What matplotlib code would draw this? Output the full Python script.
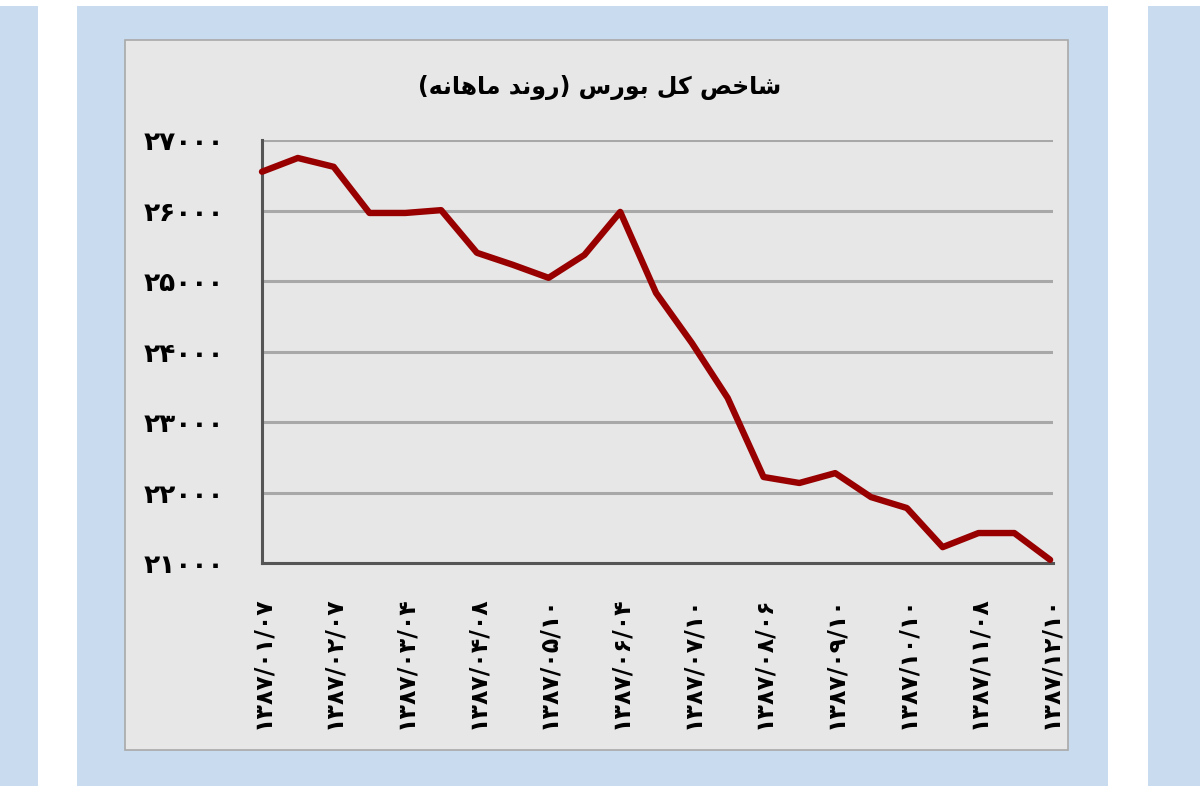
import matplotlib
matplotlib.use('Agg')
import matplotlib.pyplot as plt
from matplotlib.patches import Rectangle

# monthly index values
index_values = [26550, 26745, 26620, 25965, 25965, 26005, 25400, 25230,
                25045, 25370, 25980, 24830, 24120, 23340, 22220, 22135,
                22275, 21935, 21780, 21225, 21425, 21425, 21045]

y_ticks = [21000, 22000, 23000, 24000, 25000, 26000, 27000]
y_tick_labels = ['۲۱۰۰۰', '۲۲۰۰۰', '۲۳۰۰۰', '۲۴۰۰۰', '۲۵۰۰۰', '۲۶۰۰۰', '۲۷۰۰۰']

# every second point carries a date label
x_tick_labels = ['۱۳۸۷/۰۱/۰۷', '۱۳۸۷/۰۲/۰۷', '۱۳۸۷/۰۳/۰۴', '۱۳۸۷/۰۴/۰۸',
                 '۱۳۸۷/۰۵/۱۰', '۱۳۸۷/۰۶/۰۴', '۱۳۸۷/۰۷/۱۰', '۱۳۸۷/۰۸/۰۶',
                 '۱۳۸۷/۰۹/۱۰', '۱۳۸۷/۱۰/۱۰', '۱۳۸۷/۱۱/۰۸', '۱۳۸۷/۱۲/۱۰']

# title "شاخص کل بورس (روند ماهانه)" written in visual order with
# presentation forms, since matplotlib does no arabic shaping
title_visual = ('(\uFEEA\uFEE7\uFE8E\uFEEB\uFE8E\uFEE3 \uFEAA\uFEE7\uFEED\uFEAD) '
                '\uFEB1\uFEAD\uFEEE\uFE91 \uFEDE\uFB90 \uFEBA\uFEA7\uFE8E\uFEB7')

panel_blue = '#c9dcef'
plot_grey = '#e7e7e7'
line_red = '#980000'

plt.rcParams['font.family'] = ['DejaVu Sans']

fig = plt.figure(figsize=(12, 8), dpi=100)
fig.patch.set_facecolor('white')

W, H = 1200.0, 800.0


def px_rect(x0, y0, x1, y1, **kw):
    # rectangle given in pixel coords (origin top-left)
    r = Rectangle((x0 / W, 1 - y1 / H), (x1 - x0) / W, (y1 - y0) / H,
                  transform=fig.transFigure, **kw)
    fig.add_artist(r)
    return r


# blue frames (neighbouring panels cut at the edges)
px_rect(0, 6, 38, 786, facecolor=panel_blue, edgecolor='none', zorder=0)
px_rect(77, 6, 1108, 786, facecolor=panel_blue, edgecolor='none', zorder=0)
px_rect(1148, 6, 1200, 786, facecolor=panel_blue, edgecolor='none', zorder=0)
# grey chart area
px_rect(125, 40, 1068, 750, facecolor=plot_grey, edgecolor='#a9a9a9',
        linewidth=1.2, zorder=0.5)

ax = fig.add_axes([262 / W, 1 - 563 / H, (1053 - 262) / W, (563 - 140) / H])
ax.set_zorder(2)
ax.set_facecolor('none')

x = list(range(len(index_values)))
ax.plot(x, index_values, color=line_red, linewidth=4.6,
        solid_joinstyle='round', solid_capstyle='round', zorder=3,
        clip_on=False)

ax.set_xlim(0, len(index_values) - 1 + 0.08)
ax.set_ylim(y_ticks[0], y_ticks[-1])

ax.set_yticks(y_ticks)
ax.set_yticklabels(y_tick_labels, fontsize=19, fontweight='bold')
ax.set_xticks(x[::2])
ax.set_xticklabels(x_tick_labels, rotation=90, fontsize=17, fontweight='bold')

ax.yaxis.grid(True, color='#a8a8a8', linewidth=2.2)
ax.set_axisbelow(True)
ax.tick_params(axis='y', length=0, pad=27)
ax.tick_params(axis='x', length=0, pad=24)

for side in ['top', 'right']:
    ax.spines[side].set_visible(False)
for side in ['left', 'bottom']:
    ax.spines[side].set_color('#555555')
    ax.spines[side].set_linewidth(2.2)

fig.text(600 / W, 1 - 87 / H, title_visual, ha='center', va='center',
         fontsize=17, fontweight='bold')

plt.savefig('out.png', dpi=100)
